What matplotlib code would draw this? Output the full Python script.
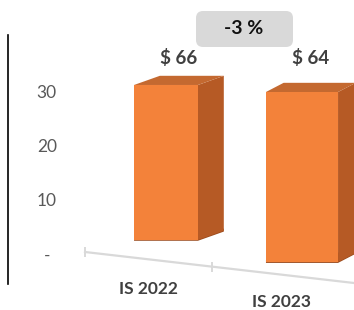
import matplotlib
matplotlib.use("Agg")
import matplotlib.pyplot as plt
from matplotlib.patches import FancyBboxPatch, Polygon
from matplotlib.lines import Line2D

# ---- data ----
categories = ["IS 2022", "IS 2023"]
bar_tops = [31.3, 30.0]          # heights
value_labels = ["$ 66", "$ 64"]
change_label = "-3 %"
tick_values = [0, 10, 20, 30]
tick_labels = ["-", "10", "20", "30"]

# ---- style / layout ----
W, H = 354, 310
DPI = 100
plt.rcParams['font.family'] = ['Lato', 'DejaVu Sans']

fig = plt.figure(figsize=(W / DPI, H / DPI), dpi=DPI)
fig.patch.set_facecolor("white")

def fx(x):
    return x / W

def fy(y):
    return 1 - y / H

ax_left = 62
ax = fig.add_axes([fx(ax_left), 0, 1 - fx(ax_left), 1])
ax.set_facecolor("none")
px_per_unit_y = 5.4
zero_px = 254
ax.set_ylim((zero_px - H) / px_per_unit_y, zero_px / px_per_unit_y)
px_per_unit_x = 136
c0 = 166
ax.set_xlim(-(c0 - ax_left) / px_per_unit_x, 1 + (W - 302) / px_per_unit_x)
for s in ax.spines.values():
    s.set_visible(False)
ax.set_xticks([])
ax.set_yticks(tick_values)
ax.set_yticklabels(tick_labels)
ax.tick_params(axis="y", length=0, pad=11, labelsize=12.5, labelcolor="#595959")
for t in ax.get_yticklabels():
    t.set_horizontalalignment("center")

# perspective styling per bar
xpos = [0, 1]
widths = [0.47, 0.53]
bases = [2.6, -1.5]
depth_dx = [0.19, 0.13]
depth_dy = [1.7, 1.7]
front_col = "#F3823A"
side_col = "#B65A25"
top_col = "#C46930"
label_y = (zero_px - 58) / px_per_unit_y

# floor line
fig.add_artist(Line2D([fx(85), fx(354)], [fy(252), fy(283)], color="#d9d9d9", lw=1.6))
fig.add_artist(Line2D([fx(85), fx(85)], [fy(248), fy(256)], color="#d9d9d9", lw=1.4))
fig.add_artist(Line2D([fx(212), fx(212)], [fy(263), fy(271)], color="#d9d9d9", lw=1.4))

for i, (x, top) in enumerate(zip(xpos, bar_tops)):
    w = widths[i]
    b = bases[i]
    dx, dy = depth_dx[i], depth_dy[i]
    xl, xr = x - w / 2, x + w / 2
    # base shadow
    ax.add_patch(Polygon([(xl, b - 0.15), (xr, b - 0.15), (xr + dx, b + dy - 0.15),
                          (xr + dx, b + dy + 0.4), (xl, b + 0.4)],
                         closed=True, facecolor="#9a4a1c", edgecolor="none", zorder=1.5))
    # side face
    ax.add_patch(Polygon([(xr, b), (xr + dx, b + dy), (xr + dx, top + dy), (xr, top)],
                         closed=True, facecolor=side_col, edgecolor="none", zorder=2))
    # top face
    ax.add_patch(Polygon([(xl, top), (xl + dx, top + dy), (xr + dx, top + dy), (xr, top)],
                         closed=True, facecolor=top_col, edgecolor="none", zorder=2))
    # front face
    ax.bar(x, top - b, bottom=b, width=w, color=front_col, zorder=3, linewidth=0)
    # value label
    ax.text(x + dx / 2, label_y, value_labels[i], ha="center", va="center",
            fontsize=13.5, fontweight="bold", color="#404040")

# category labels (perspective positions)
cat_px = [(148, 289), (282, 302)]
for lab, (px, py) in zip(categories, cat_px):
    fig.text(fx(px), fy(py), lab, ha="center", va="center", fontsize=12.5,
             fontweight="bold", color="#404040")

# change box
box = FancyBboxPatch((fx(196), fy(47)), fx(97), 36 / H,
                     boxstyle="round,pad=0,rounding_size=0.02",
                     transform=fig.transFigure, facecolor="#d9d9d9",
                     edgecolor="none", mutation_aspect=W / H)
fig.add_artist(box)
fig.text(fx(244), fy(29), change_label, ha="center", va="center",
         fontsize=14, fontweight="bold", color="#111111")

# vertical divider line
fig.add_artist(Line2D([fx(8), fx(8)], [fy(35), fy(284)], color="black", lw=1.2))

fig.savefig("out.png", dpi=DPI)
